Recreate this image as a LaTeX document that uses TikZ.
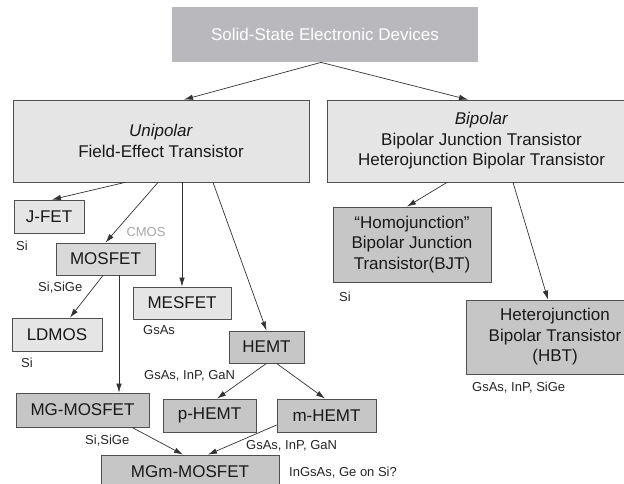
\documentclass[tikz,border=0pt]{standalone}
\usepackage{fontspec}
\setmainfont{Liberation Sans}
\usetikzlibrary{arrows.meta}
\definecolor{topfill}{HTML}{B9B9BD}
\definecolor{lightfill}{HTML}{E5E5E5}
\definecolor{midfill}{HTML}{D9D9D9}
\definecolor{darkfill}{HTML}{C6C6C6}
\definecolor{edge}{HTML}{505050}
\definecolor{cmosgray}{HTML}{A8A8A8}
\begin{document}
\begin{tikzpicture}[x=1pt,y=-1pt,
  box/.style={draw=edge, line width=0.8pt, inner sep=0pt, align=center,
    font=\fontsize{17}{20.5}\selectfont, text=black!90},
  lightbox/.style={box, fill=lightfill},
  midbox/.style={box, fill=midfill},
  darkbox/.style={box, fill=darkfill},
  lbl/.style={inner sep=0pt, anchor=west, font=\fontsize{13}{15}\selectfont, text=black!85},
  conn/.style={draw=black!80, line width=0.7pt, -{Latex[length=9pt,width=5.5pt]}}
]
\useasboundingbox (0,0) rectangle (624,484);
\fill[white] (0,0) rectangle (624,484);

\node[box, draw=none, fill=topfill, text=white, minimum width=306pt, minimum height=55pt] (top) at (325,34.5) {Solid-State Electronic Devices};

\node[lightbox, minimum width=296pt, minimum height=82pt] (uni) at (161,141) {\textit{Unipolar}\\Field-Effect Transistor};
\node[lightbox, minimum width=309pt, minimum height=82pt] (bip) at (481.5,141) {\textit{Bipolar}\\Bipolar Junction Transistor\\Heterojunction Bipolar Transistor};

\node[lightbox, minimum width=70pt, minimum height=33pt] (jfet) at (49,216.5) {J-FET};
\node[midbox, minimum width=99pt, minimum height=32pt] (mosfet) at (105.5,259) {MOSFET};
\node[lightbox, minimum width=90pt, minimum height=33pt] (ldmos) at (57,334.5) {LDMOS};
\node[lightbox, minimum width=98pt, minimum height=32pt] (mesfet) at (182,303) {MESFET};
\node[darkbox, minimum width=75pt, minimum height=32pt] (hemt) at (266.5,347) {HEMT};
\node[darkbox, minimum width=133pt, minimum height=34pt] (mgmos) at (82.5,410) {MG-MOSFET};
\node[darkbox, minimum width=93pt, minimum height=33pt] (phemt) at (209.5,415.5) {p-HEMT};
\node[darkbox, minimum width=99pt, minimum height=33pt] (mhemt) at (326.5,415.5) {m-HEMT};
\node[darkbox, minimum width=178pt, minimum height=34pt] (mgm) at (190,472) {MGm-MOSFET};
\node[darkbox, minimum width=158pt, minimum height=75pt] (homo) at (412,244.5) {``Homojunction''\\Bipolar Junction\\Transistor(BJT)};
\node[darkbox, minimum width=178pt, minimum height=74pt] (hbt) at (555,337) {Heterojunction\\Bipolar Transistor\\(HBT)};

\node[lbl] (l1) at (16,246) {Si};
\node[lbl, anchor=center, text=cmosgray] (l2) at (146,232) {CMOS};
\node[lbl] (l3) at (38,288) {Si,SiGe};
\node[lbl] (l4) at (143,330) {GsAs};
\node[lbl] (l5) at (21,363) {Si};
\node[lbl] (l6) at (144,376) {GsAs, InP, GaN};
\node[lbl] (l7) at (85,441) {Si,SiGe};
\node[lbl] (l8) at (246,446) {GsAs, InP, GaN};
\node[lbl] (l9) at (289,473) {InGsAs, Ge on Si?};
\node[lbl] (l10) at (339,297) {Si};
\node[lbl] (l11) at (472,388) {GsAs, InP, SiGe};

\draw[conn] ([xshift=-4pt]top.south) -- ([xshift=23pt]uni.north);
\draw[conn] ([xshift=-4pt]top.south) -- ([xshift=-13.5pt]bip.north);
\draw[conn] ([xshift=-36pt]uni.south) -- ([xshift=3pt]jfet.north);
\draw[conn] ([xshift=-3pt]uni.south) -- (mosfet.north);
\draw[conn] (mesfet.north |- uni.south) -- (mesfet.north);
\draw[conn] ([xshift=52pt]uni.south) -- (hemt.north);
\draw[conn] ([xshift=-2.5pt]mosfet.south) -- ([xshift=13pt]ldmos.north);
\draw[conn] ([xshift=13.5pt]mosfet.south) -- ([xshift=13.5pt]mosfet.south |- mgmos.north);
\draw[conn] (hemt.south) -- ([xshift=7.5pt]phemt.north);
\draw[conn] ([xshift=10pt]hemt.south) -- ([xshift=-1.5pt]mhemt.north);
\draw[conn] ([xshift=49.5pt]mgmos.south) -- ([xshift=-7pt]mgm.north);
\draw[conn] ([yshift=-9.5pt]mhemt.west) -- ([xshift=18pt]mgm.north);
\draw[conn] ([xshift=-34.5pt]bip.south) -- ([xshift=-5pt]homo.north);
\draw[conn] ([xshift=31.5pt]bip.south) -- ([xshift=-7pt]hbt.north);
\end{tikzpicture}
\end{document}
